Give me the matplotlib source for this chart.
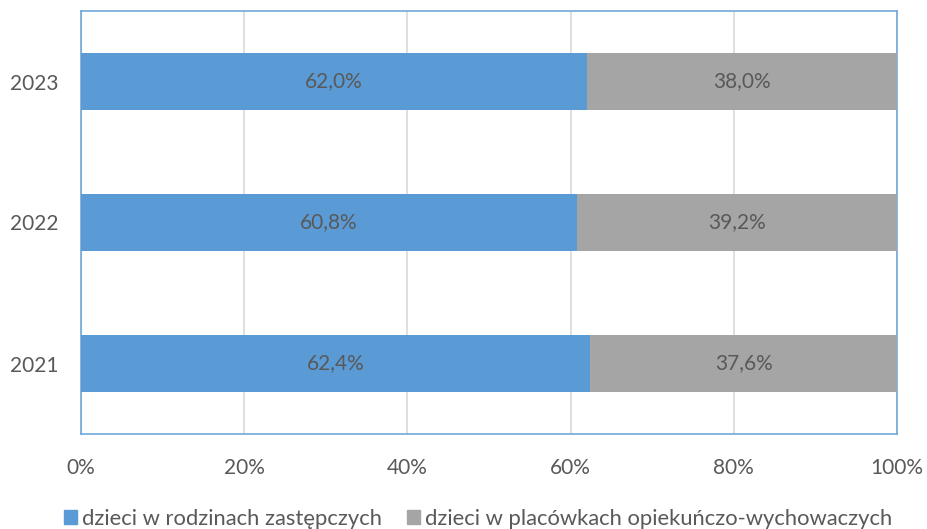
import matplotlib
matplotlib.use("Agg")
import matplotlib.pyplot as plt
from matplotlib.patches import Rectangle

years = ["2021", "2022", "2023"]
rodziny = [62.4, 60.8, 62.0]
placowki = [37.6, 39.2, 38.0]
series_names = ["dzieci w rodzinach zastępczych", "dzieci w placówkach opiekuńczo-wychowaczych"]
xticks = [0, 20, 40, 60, 80, 100]
xtick_labels = ["0%", "20%", "40%", "60%", "80%", "100%"]

blue = "#5b9bd5"
gray = "#a5a5a5"
txt = "#595959"

plt.rcParams['font.family'] = ['Lato', 'DejaVu Sans']
FS = 15

fig = plt.figure(figsize=(9.27, 5.29), dpi=100)
ax = fig.add_axes([81/927, 1-434/529, (897-81)/927, (434-11)/529])

y = list(range(len(years)))
ax.barh(y, rodziny, height=0.4, color=blue, zorder=3)
ax.barh(y, placowki, left=rodziny, height=0.4, color=gray, zorder=3)

for i in y:
    ax.text(rodziny[i]/2, i, f"{rodziny[i]:.1f}%".replace('.', ','), ha='center', va='center',
            color=txt, fontsize=FS, zorder=4)
    ax.text(rodziny[i] + placowki[i]/2, i, f"{placowki[i]:.1f}%".replace('.', ','), ha='center', va='center',
            color=txt, fontsize=FS, zorder=4)

ax.set_xlim(0, 100)
ax.set_ylim(-0.5, 2.5)
ax.set_yticks(y)
ax.set_yticklabels(years)
ax.set_xticks(xticks)
ax.set_xticklabels(xtick_labels)
ax.tick_params(axis='both', length=0, labelsize=FS, labelcolor=txt)
ax.tick_params(axis='x', pad=17)
ax.tick_params(axis='y', pad=16)
ax.grid(axis='x', color='#d9d9d9', linewidth=1.2, zorder=0)
for s in ax.spines.values():
    s.set_color('#6fa8dc')
    s.set_linewidth(1.2)
ax.axvline(0, color='#d0d0d0', linewidth=1.5, zorder=2)

handles = [Rectangle((0, 0), 1, 1, color=blue), Rectangle((0, 0), 1, 1, color=gray)]
fig.legend(handles, series_names, loc='center', bbox_to_anchor=(478/927, 1-519/529), ncol=2,
           frameon=False, fontsize=15.8, handlelength=0.6, handleheight=0.6,
           handletextpad=0.2, columnspacing=1.15, labelcolor=txt, borderpad=0)

fig.savefig("out.png", dpi=100)
